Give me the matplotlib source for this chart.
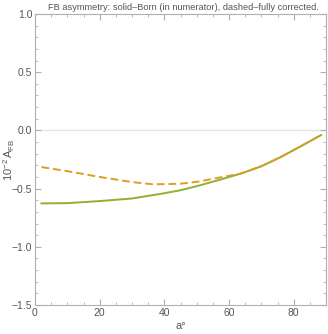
import matplotlib.pyplot as plt
import numpy as np

# angle a (degrees) and 10^-2 A_FB
a_born = [2, 10, 20, 30, 40, 45, 51, 57, 64, 70, 76, 82, 88.5]
afb_born = [-0.627, -0.625, -0.607, -0.585, -0.54, -0.514, -0.472, -0.425, -0.368,
            -0.308, -0.229, -0.139, -0.04]

a_full = [2, 10, 20, 30, 36, 40, 45, 51, 57, 62, 64, 70, 76, 82, 88.5]
afb_full = [-0.315, -0.35, -0.40, -0.444, -0.462, -0.462, -0.458, -0.438, -0.405,
            -0.38, -0.368, -0.308, -0.229, -0.139, -0.04]

green = '#8FB032'
orange = '#E19C24'
gray = '#555555'
frame = '#B0B0B0'

plt.rcParams['font.family'] = ['Liberation Sans', 'DejaVu Sans']
plt.rcParams['mathtext.fontset'] = 'custom'
plt.rcParams['mathtext.rm'] = 'Liberation Sans'
plt.rcParams['mathtext.it'] = 'Liberation Sans:italic'

fig = plt.figure(figsize=(3.28, 3.34), dpi=100)
ax = fig.add_axes([35/328, 1 - 305/334, 291/328, 291/334])

ax.axhline(0, color='#E6E6E6', lw=1.0, zorder=0)
ax.plot(a_born, afb_born, color=green, lw=1.4)
ax.plot(a_full, afb_full, color=orange, lw=1.4, ls=(0, (4, 2)))

ax.set_xlim(0, 90)
ax.set_ylim(-1.5, 1.0)
ax.set_xticks([0, 20, 40, 60, 80])
ax.set_xticks(np.arange(0, 91, 5), minor=True)
ax.set_yticks([-1.5, -1.0, -0.5, 0.0, 0.5, 1.0])
ax.set_yticks(np.arange(-1.5, 1.01, 0.1), minor=True)
ax.set_yticklabels(['\u22121.5', '\u22121.0', '\u22120.5', '0.0', '0.5', '1.0'])

for s in ax.spines.values():
    s.set_color(frame)
    s.set_linewidth(0.8)
ax.tick_params(which='both', direction='in', top=True, right=True, color=frame,
               labelcolor=gray, labelsize=7.5, pad=2)
ax.tick_params(which='major', length=4)
ax.tick_params(which='minor', length=2)

ax.set_xlabel('a\u00b0', color=gray, fontsize=8, labelpad=2)
ax.set_ylabel(r'$10^{-2}\,\mathrm{A}_{\mathrm{FB}}$', color=gray, fontsize=8)
ax.yaxis.label.set_va('center')
ax.yaxis.set_label_coords(-0.09, 0.5)
fig.text(183/328, 1 - 8/334, 'FB asymmetry: solid\u2013Born (in numerator), dashed\u2013fully corrected.',
         ha='center', va='center', color=gray, fontsize=6.7)

fig.savefig('out.png', dpi=100)
